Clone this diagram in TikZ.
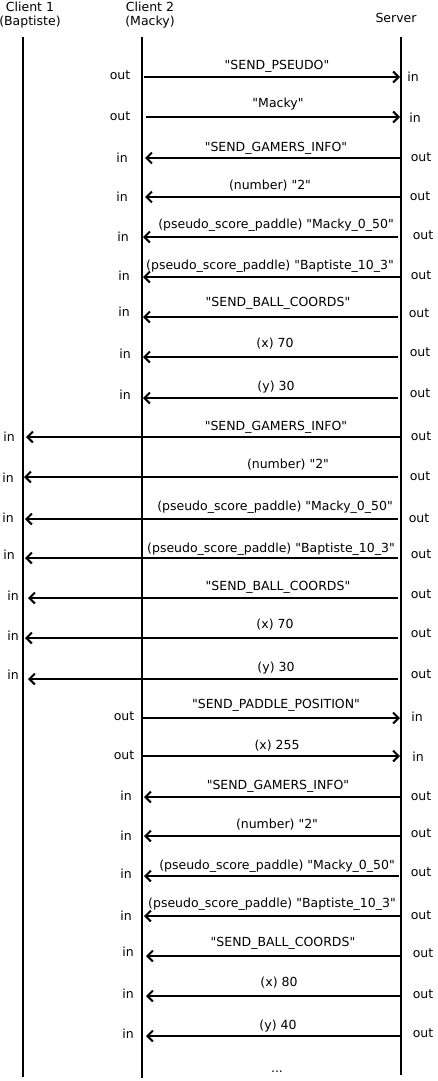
\documentclass[tikz,border=0pt]{standalone}
\usepackage{fontspec}
\setmainfont{DejaVu Sans}[Ligatures=TeXOff]
\usetikzlibrary{arrows.meta}
\tikzset{
  lifeline/.style={line width=2pt},
  msgline/.style={line width=1.8pt,-{Straight Barb[length=5.5pt,width=11pt,line width=2pt]}},
  side/.style={inner sep=0pt,font=\fontsize{12.5}{14}\selectfont},
  msglabel/.style={inner sep=0pt,font=\fontsize{12.5}{14}\selectfont},
  head/.style={inner sep=0pt,align=center,font=\fontsize{12.5}{14.5}\selectfont}
}
\begin{document}
\begin{tikzpicture}[x=1pt,y=-1pt]
\useasboundingbox (0,0) rectangle (437,1081);
% headers
\node[head] (h1) at (30,15) {Client 1\\(Baptiste)};
\node[head] (h2) at (150,15) {Client 2\\(Macky)};
\node[head] (h3) at (396,18) {Server};
% lifelines
\coordinate (c1t) at (23,37); \coordinate (c1b) at (23,1077);
\coordinate (c2t) at (142,37); \coordinate (c2b) at (142,1078);
\coordinate (svt) at (401,37); \coordinate (svb) at (401,1075);
\draw[lifeline] (c1t) -- (c1b);
\draw[lifeline] (c2t) -- (c2b);
\draw[lifeline] (svt) -- (svb);
% 1
\node[side] (o1) at (120,75) {out}; \node[side] (i1) at (413,77) {in};
\coordinate (a1) at (144,77); \coordinate (b1) at (400,77);
\draw[msgline] (a1) -- (b1);
\node[msglabel] (l1) at (277,66) {"SEND\_PSEUDO"};
% 2
\node[side] (o2) at (120,116) {out}; \node[side] (i2) at (415,118) {in};
\coordinate (a2) at (146,117); \coordinate (b2) at (400,117);
\draw[msgline] (a2) -- (b2);
\node[msglabel] (l2) at (278,104) {"Macky"};
% 3
\node[side] (i3) at (122,158) {in}; \node[side] (o3) at (421,157) {out};
\coordinate (a3) at (400,158); \coordinate (b3) at (145,158);
\draw[msgline] (a3) -- (b3);
\node[msglabel] (l3) at (276,148) {"SEND\_GAMERS\_INFO"};
% 4
\node[side] (i4) at (122,197) {in}; \node[side] (o4) at (420,196) {out};
\coordinate (a4) at (400,197); \coordinate (b4) at (145,197);
\draw[msgline] (a4) -- (b4);
\node[msglabel] (l4) at (270,186) {(number) "2"};
% 5
\node[side] (i5) at (123,237) {in}; \node[side] (o5) at (423,235) {out};
\coordinate (a5) at (398,237); \coordinate (b5) at (143,237);
\draw[msgline] (a5) -- (b5);
\node[msglabel] (l5) at (276,225) {(pseudo\_score\_paddle) "Macky\_0\_50"};
% 6
\node[side] (i6) at (124,276) {in}; \node[side] (o6) at (421,275) {out};
\coordinate (a6) at (400,277); \coordinate (b6) at (143,277);
\draw[msgline] (a6) -- (b6);
\node[msglabel] (l6) at (270,266) {(pseudo\_score\_paddle) "Baptiste\_10\_3"};
% 7
\node[side] (i7) at (124,312) {in}; \node[side] (o7) at (419,313) {out};
\coordinate (a7) at (398,317); \coordinate (b7) at (143,317);
\draw[msgline] (a7) -- (b7);
\node[msglabel] (l7) at (278,303) {"SEND\_BALL\_COORDS"};
% 8
\node[side] (i8) at (125,354) {in}; \node[side] (o8) at (420,352) {out};
\coordinate (a8) at (398,357); \coordinate (b8) at (143,357);
\draw[msgline] (a8) -- (b8);
\node[msglabel] (l8) at (275,344) {(x) 70};
% 9
\node[side] (i9) at (125,395) {in}; \node[side] (o9) at (420,393) {out};
\coordinate (a9) at (398,398); \coordinate (b9) at (143,398);
\draw[msgline] (a9) -- (b9);
\node[msglabel] (l9) at (276,387) {(y) 30};
% 10
\node[side] (i10) at (9,437) {in}; \node[side] (o10) at (421,436) {out};
\coordinate (a10) at (400,437); \coordinate (b10) at (26,437);
\draw[msgline] (a10) -- (b10);
\node[msglabel] (l10) at (276,427) {"SEND\_GAMERS\_INFO"};
% 11
\node[side] (i11) at (8,478) {in}; \node[side] (o11) at (420,476) {out};
\coordinate (a11) at (398,477); \coordinate (b11) at (24,477);
\draw[msgline] (a11) -- (b11);
\node[msglabel] (l11) at (288,465) {(number) "2"};
% 12
\node[side] (i12) at (8,518) {in}; \node[side] (o12) at (419,518) {out};
\coordinate (a12) at (398,519); \coordinate (b12) at (25,519);
\draw[msgline] (a12) -- (b12);
\node[msglabel] (l12) at (275,507) {(pseudo\_score\_paddle) "Macky\_0\_50"};
% 13
\node[side] (i13) at (9,555) {in}; \node[side] (o13) at (421,554) {out};
\coordinate (a13) at (398,558); \coordinate (b13) at (25,558);
\draw[msgline] (a13) -- (b13);
\node[msglabel] (l13) at (271,549) {(pseudo\_score\_paddle) "Baptiste\_10\_3"};
% 14
\node[side] (i14) at (13,596) {in}; \node[side] (o14) at (421,594) {out};
\coordinate (a14) at (398,598); \coordinate (b14) at (28,598);
\draw[msgline] (a14) -- (b14);
\node[msglabel] (l14) at (278,587) {"SEND\_BALL\_COORDS"};
% 15
\node[side] (i15) at (13,636) {in}; \node[side] (o15) at (421,633) {out};
\coordinate (a15) at (398,638); \coordinate (b15) at (25,638);
\draw[msgline] (a15) -- (b15);
\node[msglabel] (l15) at (275,625) {(x) 70};
% 16
\node[side] (i16) at (13,675) {in}; \node[side] (o16) at (421,674) {out};
\coordinate (a16) at (398,679); \coordinate (b16) at (28,679);
\draw[msgline] (a16) -- (b16);
\node[msglabel] (l16) at (276,668) {(y) 30};
% 17
\node[side] (o17) at (124,716) {out}; \node[side] (i17) at (417,717) {in};
\coordinate (a17) at (143,718); \coordinate (b17) at (400,718);
\draw[msgline] (a17) -- (b17);
\node[msglabel] (l17) at (276,705) {"SEND\_PADDLE\_POSITION"};
% 18
\node[side] (o18) at (124,755) {out}; \node[side] (i18) at (418,757) {in};
\coordinate (a18) at (143,756); \coordinate (b18) at (400,756);
\draw[msgline] (a18) -- (b18);
\node[msglabel] (l18) at (277,746) {(x) 255};
% 19
\node[side] (i19) at (126,796) {in}; \node[side] (o19) at (421,796) {out};
\coordinate (a19) at (400,797); \coordinate (b19) at (144,797);
\draw[msgline] (a19) -- (b19);
\node[msglabel] (l19) at (278,786) {"SEND\_GAMERS\_INFO"};
% 20
\node[side] (i20) at (126,836) {in}; \node[side] (o20) at (421,833) {out};
\coordinate (a20) at (400,836); \coordinate (b20) at (144,836);
\draw[msgline] (a20) -- (b20);
\node[msglabel] (l20) at (277,825) {(number) "2"};
% 21
\node[side] (i21) at (126,874) {in}; \node[side] (o21) at (421,872) {out};
\coordinate (a21) at (399,876); \coordinate (b21) at (144,876);
\draw[msgline] (a21) -- (b21);
\node[msglabel] (l21) at (277,866) {(pseudo\_score\_paddle) "Macky\_0\_50"};
% 22
\node[side] (i22) at (126,916) {in}; \node[side] (o22) at (421,915) {out};
\coordinate (a22) at (400,916); \coordinate (b22) at (144,916);
\draw[msgline] (a22) -- (b22);
\node[msglabel] (l22) at (272,904) {(pseudo\_score\_paddle) "Baptiste\_10\_3"};
% 23
\node[side] (i23) at (128,952) {in}; \node[side] (o23) at (423,953) {out};
\coordinate (a23) at (400,956); \coordinate (b23) at (146,956);
\draw[msgline] (a23) -- (b23);
\node[msglabel] (l23) at (283,943) {"SEND\_BALL\_COORDS"};
% 24
\node[side] (i24) at (128,994) {in}; \node[side] (o24) at (423,994) {out};
\coordinate (a24) at (402,996); \coordinate (b24) at (146,996);
\draw[msgline] (a24) -- (b24);
\node[msglabel] (l24) at (279,983) {(x) 80};
% 25
\node[side] (i25) at (128,1034) {in}; \node[side] (o25) at (423,1033) {out};
\coordinate (a25) at (400,1036); \coordinate (b25) at (146,1036);
\draw[msgline] (a25) -- (b25);
\node[msglabel] (l25) at (278,1026) {(y) 40};
% ellipsis
\node[msglabel] (dots) at (277,1072) {...};
\end{tikzpicture}
\end{document}
